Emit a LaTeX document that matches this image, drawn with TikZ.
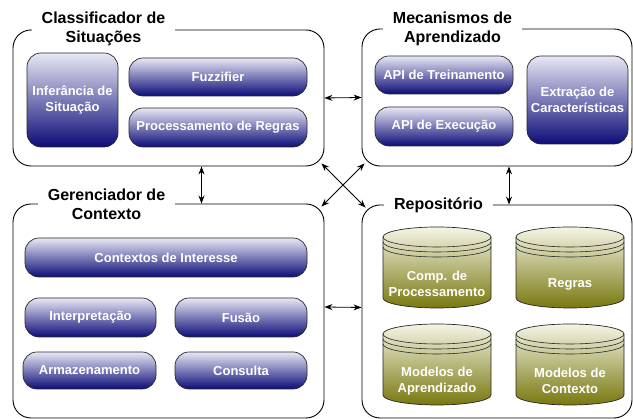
\documentclass[tikz,border=0pt]{standalone}
\usepackage{fontspec}
\setmainfont{Liberation Sans}
\usepackage{tikz}
\usetikzlibrary{arrows.meta}
\definecolor{boxtop}{HTML}{E8E8F5}
\definecolor{boxbottom}{HTML}{0C0C78}
\definecolor{dbtop}{HTML}{F5F5E6}
\definecolor{dbbottom}{HTML}{78780F}
\tikzset{>={Stealth[length=8pt,width=6pt]}}
\tikzset{%
    painel/.style={draw,line width=0.9pt,rounded corners=18pt,inner sep=0pt},
    titulo/.style={fill=white,align=center,inner xsep=10pt,inner ysep=1pt,
        font=\fontsize{16}{19}\selectfont\bfseries},
    modulo/.style={draw=black!85,line width=0.7pt,rounded corners=14pt,
        top color=boxtop,bottom color=boxbottom,text=white,align=center,
        inner sep=0pt,font=\fontsize{13}{16}\selectfont\bfseries},
    dbtexto/.style={text=white,align=center,font=\fontsize{13}{16}\selectfont\bfseries},
    seta/.style={<->,line width=0.8pt}
}

\begin{document}
\begin{tikzpicture}[x=1pt,y=1pt]
\useasboundingbox (0,0) rectangle (633,419);
% quatro paineis
\node[painel,minimum width=311,minimum height=136] (clas) at (168.5,321) {};
\node[painel,minimum width=270,minimum height=137] (mec) at (497,321.5) {};
\node[painel,minimum width=311,minimum height=214] (ger) at (168.5,108) {};
\node[painel,minimum width=270,minimum height=213] (rep) at (497,107.5) {};
\node[titulo] (clasT) at (103.5,390.5) {Classificador de\\Situações};
\node[titulo] (mecT) at (452.5,390.5) {Mecanismos de\\Aprendizado};
\node[titulo] (gerT) at (106.5,215) {Gerenciador de\\Contexto};
\node[titulo] (repT) at (438.5,214) {Repositório};
% Classificador de Situacoes
\node[modulo,minimum width=91,minimum height=94] (infer) at (72.5,319) {Inferância de\\Situação};
\node[modulo,minimum width=178,minimum height=38] (fuzz) at (218,342) {Fuzzifier};
\node[modulo,minimum width=178,minimum height=39] (proc) at (218,291.5) {Processamento de Regras};
% Mecanismos de Aprendizado
\node[modulo,minimum width=138,minimum height=38] (apitr) at (444,344) {API de Treinamento};
\node[modulo,minimum width=138,minimum height=39] (apiex) at (444,292.5) {API de Execução};
\node[modulo,minimum width=101,minimum height=88] (extr) at (577.5,319) {Extração de\\Características};
% Gerenciador de Contexto
\node[modulo,minimum width=282,minimum height=39] (ctxint) at (166,161.5) {Contextos de Interesse};
\node[modulo,minimum width=131,minimum height=39] (interp) at (90.5,101.5) {Interpretação};
\node[modulo,minimum width=132,minimum height=39] (fusao) at (241,101.5) {Fusão};
\node[modulo,minimum width=133,minimum height=37] (armaz) at (89.5,48.5) {Armazenamento};
\node[modulo,minimum width=132,minimum height=37] (consulta) at (241,48.5) {Consulta};
% Repositorio
\foreach \cx/\cy/\nome/\texto in {437/182/comp/{Comp. de\\Processamento},570/182/regras/{Regras},
    437/85/modapr/{Modelos de\\Aprendizado},570/85/modctx/{Modelos de\\Contexto}}{
    \shadedraw[top color=dbtop,bottom color=dbbottom,draw=black!85,line width=0.7pt]
        (\cx-54,\cy) -- (\cx-54,\cy-61) arc (180:360:54 and 10) -- (\cx+54,\cy)
        arc (0:180:54 and 10) -- cycle;
    \foreach \d in {0,5,10}
        \draw[black!85,line width=0.6pt] (\cx-54,\cy-\d) arc (180:360:54 and 10);
    \node[dbtexto] (\nome) at (\cx,\cy-47) {\texto};
}
% setas
\draw[seta] (clas.east) -- (mec.west);
\draw[seta] ([yshift=4pt]ger.east) -- ([yshift=4pt]rep.west);
\draw[seta] ([xshift=33pt]clas.south) -- ([xshift=33pt]ger.north);
\draw[seta] ([xshift=12pt]mec.south) -- ([xshift=12pt]rep.north);
\draw[seta] ([shift={(-3,3)}]clas.south east) -- ([shift={(4,-3)}]rep.north west);
\draw[seta] ([shift={(3,3)}]mec.south west) -- ([shift={(-3,-3)}]ger.north east);
\end{tikzpicture}
\end{document}
